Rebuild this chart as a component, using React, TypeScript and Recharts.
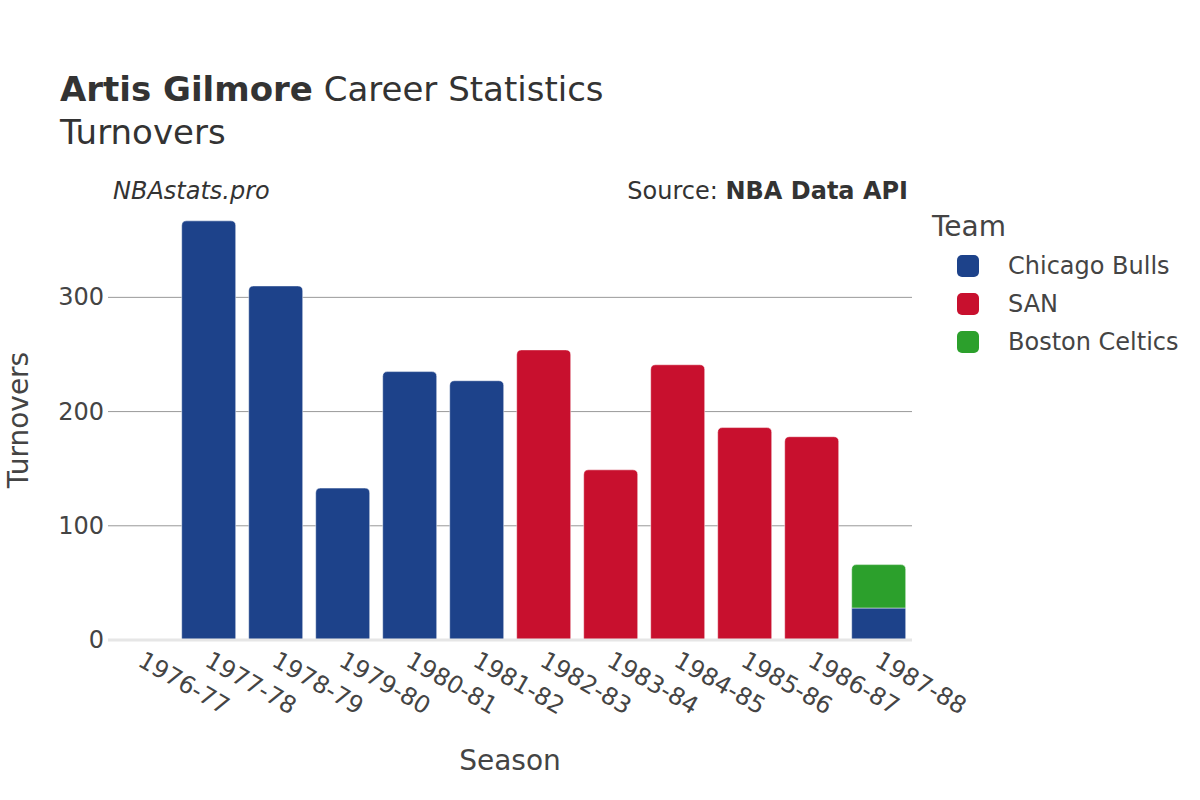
import React from 'react';
import { BarChart, Bar, XAxis, YAxis, CartesianGrid, ReferenceLine } from 'recharts';

const seasons = ['1976-77', '1977-78', '1978-79', '1979-80', '1980-81', '1981-82', '1982-83', '1983-84', '1984-85', '1985-86', '1986-87', '1987-88'];
const chicagoBulls = [null, 367, 310, 133, 235, 227, null, null, null, null, null, 28];
const sanAntonio = [null, null, null, null, null, null, 254, 149, 241, 186, 178, null];
const bostonCeltics = [null, null, null, null, null, null, null, null, null, null, null, 38];
const yTicks = [0, 100, 200, 300];

const teams = [
  { key: 'chicago', name: 'Chicago Bulls', color: '#1D428A' },
  { key: 'san', name: 'SAN', color: '#C8102E' },
  { key: 'boston', name: 'Boston Celtics', color: '#2CA02C' },
];

const data = seasons.map((s, i) => ({
  season: s,
  chicago: chicagoBulls[i],
  san: sanAntonio[i],
  boston: bostonCeltics[i],
}));

const FONT = '"DejaVu Sans", sans-serif';
const TXT = '#444';

const makeShape = (key: string) => (props: any) => {
  const { x, y, width, height, fill, payload } = props;
  if (!height || height <= 0) return null;
  const isTop = key === 'boston' || key === 'san' || (key === 'chicago' && payload.boston == null);
  const r = isTop ? Math.min(5, height / 2) : 0;
  const d = `M${x},${y + height} L${x},${y + r} Q${x},${y} ${x + r},${y} L${x + width - r},${y} Q${x + width},${y} ${x + width},${y + r} L${x + width},${y + height} Z`;
  return <path d={d} fill={fill} stroke="#ffffff" strokeOpacity={0.6} strokeWidth={0.8} />;
};

const XTick = (props: any) => {
  const { x, y, payload } = props;
  const tx = x - 5;
  const ty = y + 17;
  return (
    <text
      x={tx}
      y={ty}
      transform={`rotate(30, ${tx}, ${ty})`}
      textAnchor="start"
      fontFamily={FONT}
      fontSize={24}
      fill={TXT}
    >
      {payload.value}
    </text>
  );
};

const YTick = (props: any) => {
  const { x, y, payload } = props;
  return (
    <text x={x + 4} y={y + 8} textAnchor="end" fontFamily={FONT} fontSize={24} fill={TXT}>
      {payload.value}
    </text>
  );
};

const LegendBox = () => (
  <div style={{ position: 'absolute', left: 930, top: 211, width: 270, fontFamily: FONT, color: TXT }}>
    <div style={{ fontSize: 28, lineHeight: '32px', marginLeft: 2 }}>Team</div>
    {teams.map((t) => (
      <div key={t.key} style={{ display: 'flex', alignItems: 'center', height: 38, marginTop: t.key === 'chicago' ? 4 : 0 }}>
        <div style={{ width: 22, height: 22, borderRadius: 5, background: t.color, marginLeft: 27 }} />
        <div style={{ fontSize: 24, marginLeft: 29 }}>{t.name}</div>
      </div>
    ))}
  </div>
);

export default function App() {
  return (
    <div style={{ position: 'relative', width: 1200, height: 800, background: '#fff' }}>
      <style>{`body{margin:0}`}</style>
      <BarChart
        width={1200}
        height={800}
        data={data}
        margin={{ top: 206, right: 288, bottom: 0, left: 0 }}
        barCategoryGap="10%"
      >
        <CartesianGrid horizontal vertical={false} stroke="#999" strokeWidth={1} horizontalValues={[100, 200, 300]} />
        <XAxis
          dataKey="season"
          axisLine={false}
          tickLine={false}
          tick={<XTick />}
          interval={0}
          height={160}
        />
        <YAxis
          domain={[0, 380]}
          ticks={yTicks}
          axisLine={false}
          tickLine={false}
          tick={<YTick />}
          width={108}
        />
        <ReferenceLine y={0} stroke="#e6e6e6" strokeWidth={3} />
        {teams.map((t) => (
          <Bar
            key={t.key}
            dataKey={t.key}
            name={t.name}
            stackId="a"
            fill={t.color}
            isAnimationActive={false}
            shape={makeShape(t.key)}
          />
        ))}
      </BarChart>
      <LegendBox />
      <svg
        width={1200}
        height={800}
        style={{ position: 'absolute', left: 0, top: 0, pointerEvents: 'none' }}
        fontFamily={FONT}
      >
        <text x={60} y={101} fontSize={34} fill="#333">
          <tspan fontWeight="bold">Artis Gilmore</tspan>
          <tspan> Career Statistics</tspan>
        </text>
        <text x={60} y={144} fontSize={34} fill="#333">Turnovers</text>
        <text x={113} y={199} fontSize={24} fontStyle="italic" fill="#333">NBAstats.pro</text>
        <text x={908} y={199} fontSize={24} textAnchor="end" fill="#333">
          <tspan>Source: </tspan>
          <tspan fontWeight="bold">NBA Data API</tspan>
        </text>
        <text
          x={28}
          y={420}
          fontSize={28}
          fill={TXT}
          textAnchor="middle"
          transform="rotate(-90, 28, 420)"
        >
          Turnovers
        </text>
        <text x={510} y={770} fontSize={28} fill={TXT} textAnchor="middle">Season</text>
      </svg>
    </div>
  );
}
